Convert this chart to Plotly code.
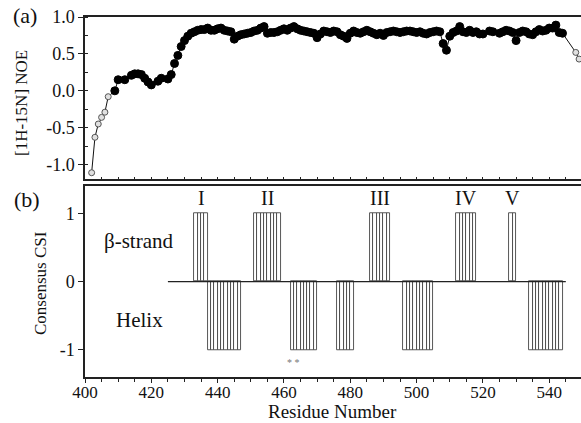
import plotly.graph_objects as go

# ---------------- data ----------------
noe_res = [402, 403, 404, 405, 406, 407,
           409, 410, 412, 414, 415, 416, 417, 418, 419, 420, 422, 423, 425, 426,
           427, 428, 429, 430, 431, 432, 433, 434, 435, 436, 437, 438, 439, 440,
           441, 442, 443, 444, 445, 446, 447, 448, 449, 450, 451, 452, 453, 454,
           455, 456, 457, 458, 459, 460, 461, 462, 463, 464, 465, 466, 467, 468,
           469, 470, 471, 472, 473, 474, 475, 476, 477, 478, 479, 480, 481, 482,
           483, 484, 485, 486, 487, 488, 489, 490, 491, 492, 493, 494, 495, 496,
           497, 498, 499, 500, 501, 502, 503, 504, 505, 506, 507, 508, 509, 510,
           511, 512, 513, 514, 515, 516, 517, 518, 519, 520, 522, 523, 525, 526,
           527, 528, 529, 530, 531, 532, 533, 534, 535, 536, 537, 538, 539, 540,
           541, 542, 543, 544, 548, 549]
noe_val = [-1.11, -0.63, -0.45, -0.36, -0.29, -0.08,
           0.00, 0.15, 0.15, 0.21, 0.23, 0.23, 0.22, 0.17, 0.12, 0.08, 0.13, 0.17, 0.16, 0.22,
           0.37, 0.48, 0.60, 0.68, 0.74, 0.78, 0.80, 0.82, 0.83, 0.83, 0.85, 0.82, 0.82, 0.84,
           0.85, 0.82, 0.81, 0.80, 0.70, 0.74, 0.76, 0.77, 0.78, 0.79, 0.81, 0.82, 0.85, 0.87,
           0.78, 0.79, 0.79, 0.80, 0.82, 0.84, 0.82, 0.85, 0.87, 0.84, 0.82, 0.81, 0.80, 0.79,
           0.78, 0.72, 0.77, 0.81, 0.80, 0.79, 0.81, 0.80, 0.76, 0.74, 0.71, 0.78, 0.81, 0.79,
           0.78, 0.80, 0.82, 0.80, 0.78, 0.76, 0.78, 0.75, 0.79, 0.80, 0.81, 0.80, 0.79, 0.80,
           0.81, 0.81, 0.80, 0.79, 0.80, 0.78, 0.77, 0.79, 0.80, 0.81, 0.80, 0.64, 0.55, 0.74,
           0.79, 0.81, 0.87, 0.80, 0.79, 0.82, 0.79, 0.80, 0.77, 0.77, 0.81, 0.80, 0.78, 0.80,
           0.82, 0.81, 0.79, 0.68, 0.79, 0.81, 0.80, 0.77, 0.76, 0.80, 0.83, 0.81, 0.82, 0.85,
           0.85, 0.89, 0.79, 0.78, 0.52, 0.43]
open_res = [402, 403, 404, 405, 406, 407, 548, 549]

noe_ticks = [-1.0, -0.5, 0.0, 0.5, 1.0]
noe_ticktext = ["-1.0", "-0.5", "0.0", "0.5", "1.0"]
csi_ticks = [-1, 0, 1]
csi_ticktext = ["-1", "0", "1"]

csi_first = 425
csi_last = 544
strand_segments = [(433, 436), (451, 458), (486, 491), (512, 517), (528, 529)]
helix_segments = [(437, 446), (462, 469), (476, 480), (496, 504), (534, 543)]
strand_names = ["I", "II", "III", "IV", "V"]
star_res = [461, 464]

# ---------------- build ----------------
csi_res, csi_val = [], []
for a, b in strand_segments:
    for r in range(a, b + 1):
        csi_res.append(r); csi_val.append(1)
for a, b in helix_segments:
    for r in range(a, b + 1):
        csi_res.append(r); csi_val.append(-1)

is_open = [r in open_res for r in noe_res]
FONT = "Liberation Serif, Times New Roman, serif"

fig = go.Figure()
fig.add_trace(go.Scatter(
    x=noe_res, y=noe_val, mode="lines+markers", xaxis="x", yaxis="y",
    line=dict(color="#111", width=1),
    marker=dict(
        size=[6 if o else 8 for o in is_open],
        color=["#e0e0e0" if o else "#000" for o in is_open],
        line=dict(color=["#555" if o else "#000" for o in is_open], width=1),
        opacity=1,
    ),
    cliponaxis=False, showlegend=False, hoverinfo="skip"))

fig.add_trace(go.Bar(
    x=csi_res, y=csi_val, width=1, offset=0, xaxis="x2", yaxis="y2",
    marker=dict(color="white", line=dict(color="#444", width=0.9)),
    showlegend=False, hoverinfo="skip"))
fig.add_trace(go.Scatter(
    x=[csi_first, csi_last + 1], y=[0, 0], mode="lines", xaxis="x2", yaxis="y2",
    line=dict(color="#222", width=1.3), showlegend=False, hoverinfo="skip"))

L, T, PW, PH = 85, 17, 496, 360
xr = [400, 400 + PW / 3.316]


def px(wx):
    return (wx - L) / PW


def py(wy):
    return 1 - (wy - T) / PH


axline = dict(showline=True, linecolor="#222", linewidth=1.5, showgrid=False,
              zeroline=False)
fig.update_layout(
    width=581, height=423,
    margin=dict(l=L, r=0, t=T, b=423 - T - PH),
    paper_bgcolor="white", plot_bgcolor="white",
    font=dict(family=FONT, color="#111", size=18),
    bargap=0,
    xaxis=dict(domain=[0, 1], anchor="y", range=xr, showticklabels=False,
               ticks="inside", tick0=400, dtick=5, ticklen=3, tickcolor="#222",
               mirror=True, **axline),
    yaxis=dict(domain=[0.549, 1], anchor="x", range=[-1.2, 1.0],
               tickvals=noe_ticks, ticktext=noe_ticktext, ticks="outside", ticklen=5,
               tickcolor="#222", tickfont=dict(size=18), ticklabeloverflow="allow",
               minor=dict(dtick=0.25, ticks="inside", ticklen=3, tickcolor="#222"),
               **axline),
    xaxis2=dict(domain=[0, 1], anchor="y2", range=xr, tick0=400, dtick=20,
                ticks="outside", ticklen=4, tickcolor="#222",
                tickfont=dict(size=17), ticklabelstandoff=-5,
                minor=dict(dtick=5, ticks="outside", ticklen=3, tickcolor="#222"),
                mirror=True, **axline),
    yaxis2=dict(domain=[0, 0.53], anchor="x2", range=[-1.4, 1.4],
                tickvals=csi_ticks, ticktext=csi_ticktext, ticks="outside",
                ticklen=5, tickcolor="#222", tickfont=dict(size=18), **axline),
)

C = dict(showarrow=False, xanchor="center", yanchor="middle")
ann = []
for name, (a, b) in zip(strand_names, strand_segments):
    ann.append(dict(x=(a + b + 1) / 2, y=1.03, xref="x2", yref="y2", text=name,
                    showarrow=False, xanchor="center", yanchor="bottom",
                    font=dict(size=20)))
ann.append(dict(x=sum(star_res) / len(star_res) + 0.3, y=-1.19, xref="x2", yref="y2",
                text="* *", font=dict(size=10, color="#777"), **C))
ann.append(dict(x=416, y=0.59, xref="x2", yref="y2", text="β-strand",
                font=dict(size=21), **C))
ann.append(dict(x=416.3, y=-0.56, xref="x2", yref="y2", text="Helix",
                font=dict(size=21), **C))
ann.append(dict(x=px(25), y=py(15), xref="paper", yref="paper", text="(a)",
                font=dict(size=22), **C))
ann.append(dict(x=px(27), y=py(199), xref="paper", yref="paper", text="(b)",
                font=dict(size=22), **C))
ann.append(dict(x=px(21), y=py(103), xref="paper", yref="paper",
                text="[1H-15N] NOE", textangle=-90, font=dict(size=17), **C))
ann.append(dict(x=px(40), y=py(283), xref="paper", yref="paper",
                text="Consensus CSI", textangle=-90, font=dict(size=17), **C))
ann.append(dict(x=px(332), y=py(411), xref="paper", yref="paper",
                text="Residue Number", font=dict(size=19), **C))
fig.update_layout(annotations=ann)

# remove the browser's default 8px body margin so the figure sits at (0, 0)
fig.write_html("out.html",
               config={"displayModeBar": False},
               post_script="document.body.style.margin='0';")
